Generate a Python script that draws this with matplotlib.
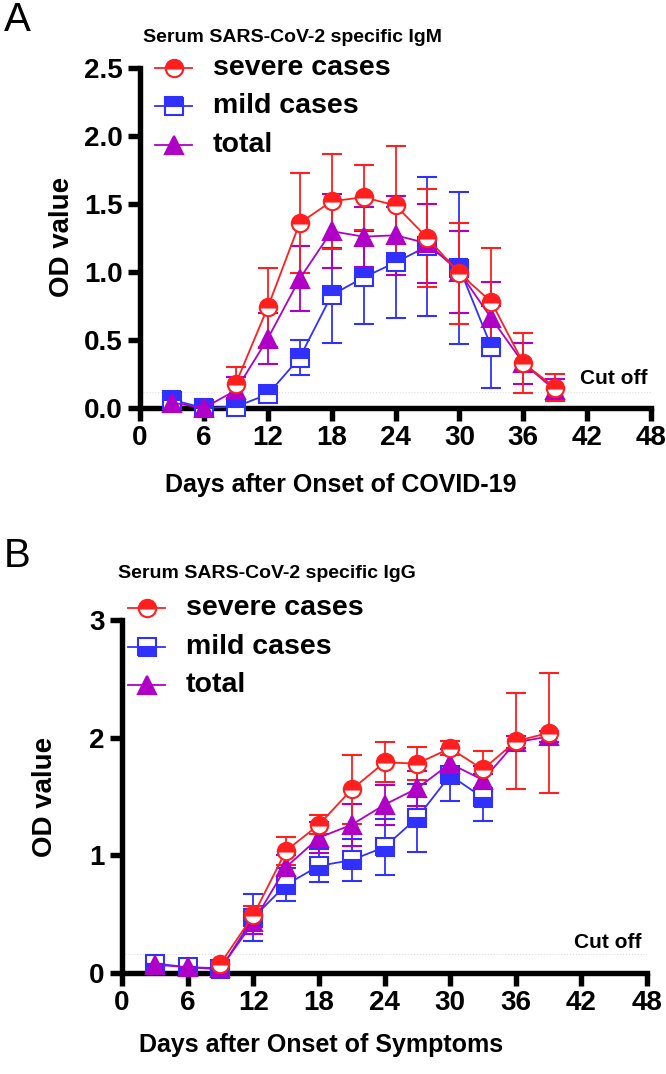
import numpy as np
import matplotlib
matplotlib.use("Agg")
import matplotlib.pyplot as plt
from matplotlib.lines import Line2D

plt.rcParams['font.family'] = ['Liberation Sans', 'DejaVu Sans']
plt.rcParams['font.weight'] = 'bold'

RED = '#ff1f1f'
BLUE = '#3030ff'
PURPLE = '#b000c8'

# panel A, IgM
sevA_days = [9, 12, 15, 18, 21, 24, 27, 30, 33, 36, 39]
sevA = [0.18, 0.74, 1.36, 1.52, 1.55, 1.49, 1.25, 0.99, 0.78, 0.33, 0.15]
sevA_sd = [0.12, 0.29, 0.37, 0.35, 0.24, 0.44, 0.36, 0.37, 0.40, 0.22, 0.10]
mildA_days = [3, 6, 9, 12, 15, 18, 21, 24, 27, 30, 33]
mildA = [0.06, 0.00, 0.01, 0.10, 0.37, 0.83, 0.96, 1.07, 1.19, 1.03, 0.45]
mildA_sd = [0.02, 0.00, 0.01, 0.02, 0.13, 0.35, 0.34, 0.41, 0.51, 0.56, 0.30]
totA_days = [3, 6, 9, 12, 15, 18, 21, 24, 27, 30, 33, 36, 39]
totA = [0.04, 0.00, 0.13, 0.51, 0.95, 1.30, 1.26, 1.27, 1.21, 1.00, 0.66, 0.33, 0.13]
totA_sd = [0.01, 0.00, 0.10, 0.19, 0.24, 0.27, 0.22, 0.29, 0.29, 0.30, 0.27, 0.15, 0.08]

# panel B, IgG
sevB_days = [9, 12, 15, 18, 21, 24, 27, 30, 33, 36, 39]
sevB = [0.08, 0.49, 1.04, 1.26, 1.56, 1.79, 1.78, 1.91, 1.73, 1.97, 2.04]
sevB_sd = [0.02, 0.08, 0.12, 0.08, 0.29, 0.17, 0.14, 0.06, 0.16, 0.41, 0.51]
mildB_days = [3, 6, 9, 12, 15, 18, 21, 24, 27, 30, 33]
mildB = [0.08, 0.05, 0.03, 0.47, 0.75, 0.91, 0.96, 1.07, 1.32, 1.68, 1.49]
mildB_sd = [0.02, 0.02, 0.01, 0.20, 0.14, 0.14, 0.18, 0.24, 0.29, 0.22, 0.20]
totB_days = [3, 6, 9, 12, 15, 18, 21, 24, 27, 30, 33, 36, 39]
totB = [0.07, 0.05, 0.04, 0.43, 0.90, 1.15, 1.26, 1.43, 1.57, 1.78, 1.64, 1.96, 2.01]
totB_sd = [0.02, 0.02, 0.01, 0.10, 0.10, 0.13, 0.18, 0.17, 0.15, 0.12, 0.12, 0.05, 0.05]

xticks = [0, 6, 12, 18, 24, 30, 36, 42, 48]
labels = ['severe cases', 'mild cases', 'total']
W, H = 666, 1074


def fx(px):
    return px / W


def fy(py):
    return 1 - py / H


def series(ax, d, m, s, color, marker, fill):
    ax.errorbar(d, m, yerr=s, color=color, lw=1.3, elinewidth=1.3, capsize=7,
                capthick=1.3, marker=marker, ms=12.5, mec=color, mew=1.5,
                mfc=color, markerfacecoloralt='white', fillstyle=fill,
                clip_on=False, zorder=3)


def style(ax, ymax, yticks, yfmt):
    ax.set_xlim(0, 48)
    ax.set_ylim(0, ymax)
    ax.set_xticks(xticks)
    ax.set_yticks(yticks)
    ax.set_yticklabels([yfmt % v for v in yticks])
    for sp in ['top', 'right']:
        ax.spines[sp].set_visible(False)
    for sp in ['left', 'bottom']:
        ax.spines[sp].set_linewidth(3.9)
    ax.tick_params(width=3.9, length=9, labelsize=20, pad=3.5)
    for lab in ax.get_xticklabels() + ax.get_yticklabels():
        lab.set_fontweight('bold')


def legend(fig, xh, rows, fills):
    # manual legend: handle line from xh to xh+37 px, text at xh+58 px
    specs = [(RED, 'o', fills[0]), (BLUE, 's', fills[1]), (PURPLE, '^', 'full')]
    for (c, mk, fs), y, lab in zip(specs, rows, labels):
        fig.add_artist(Line2D([fx(xh), fx(xh + 37)], [fy(y), fy(y)], color=c, lw=1.3))
        fig.add_artist(Line2D([fx(xh + 18.5)], [fy(y)], marker=mk, ms=12.5, mec=c,
                              mfc=c, markerfacecoloralt='white', fillstyle=fs,
                              mew=1.5, ls='none'))
        fig.text(fx(xh + 58), fy(y), lab, fontsize=20.5, fontweight='bold',
                 va='center')


fig = plt.figure(figsize=(W / 100, H / 100), dpi=100)

# ---- panel A
axA = fig.add_axes([fx(140), fy(408), 511 / W, 340 / H])
axA.plot([0, 48], [0.12, 0.12], ls=':', color='#dddddd', lw=0.8, zorder=1)
series(axA, mildA_days, mildA, mildA_sd, BLUE, 's', 'top')
series(axA, totA_days, totA, totA_sd, PURPLE, '^', 'full')
series(axA, sevA_days, sevA, sevA_sd, RED, 'o', 'top')
style(axA, 2.5, [0, 0.5, 1.0, 1.5, 2.0, 2.5], '%.1f')
axA.text(41.3, 0.22, 'Cut off', fontsize=15, fontweight='bold', va='center')
fig.text(fx(341), fy(485), 'Days after Onset of COVID-19', fontsize=18,
         fontweight='bold', ha='center', va='center')
fig.text(fx(62), fy(237), 'OD value', fontsize=20, fontweight='bold',
         rotation=90, ha='center', va='center')
legend(fig, 155, [68, 106, 145], ['top', 'top'])
fig.text(fx(143), fy(37), 'Serum SARS-CoV-2 specific IgM', fontsize=14,
         fontweight='bold', va='center')
fig.text(fx(4), fy(20), 'A', fontsize=29, fontweight='normal', va='center')

# ---- panel B
axB = fig.add_axes([fx(122), fy(973), 525 / W, 353 / H])
axB.plot([0, 48], [0.16, 0.16], ls=':', color='#dddddd', lw=0.8, zorder=1)
series(axB, mildB_days, mildB, mildB_sd, BLUE, 's', 'bottom')
series(axB, totB_days, totB, totB_sd, PURPLE, '^', 'full')
series(axB, sevB_days, sevB, sevB_sd, RED, 'o', 'top')
style(axB, 3, [0, 1, 2, 3], '%d')
axB.text(41.3, 0.26, 'Cut off', fontsize=15, fontweight='bold', va='center')
fig.text(fx(321), fy(1045), 'Days after Onset of Symptoms', fontsize=18,
         fontweight='bold', ha='center', va='center')
fig.text(fx(45), fy(797), 'OD value', fontsize=20, fontweight='bold',
         rotation=90, ha='center', va='center')
legend(fig, 128, [608, 647, 685], ['top', 'bottom'])
fig.text(fx(118), fy(573), 'Serum SARS-CoV-2 specific IgG', fontsize=14,
         fontweight='bold', va='center')
fig.text(fx(4), fy(556), 'B', fontsize=29, fontweight='normal', va='center')

fig.savefig('out.png', dpi=100)
